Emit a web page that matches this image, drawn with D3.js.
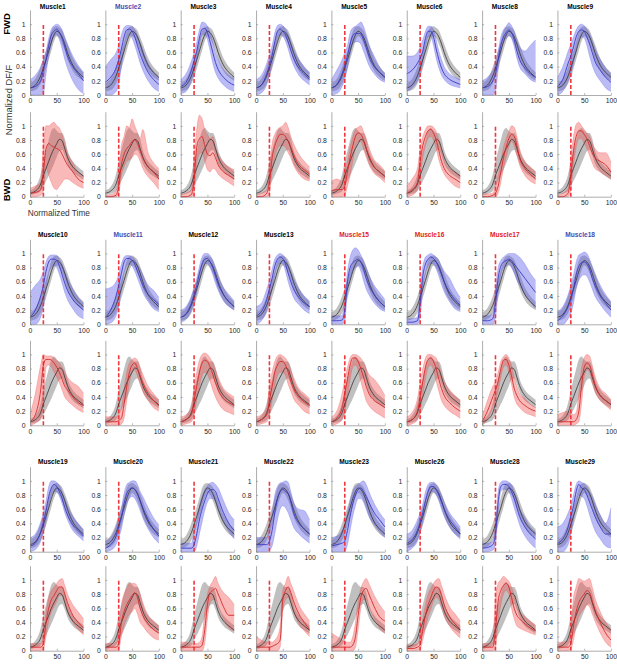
<!DOCTYPE html>
<html><head><meta charset="utf-8">
<script src="https://cdn.jsdelivr.net/npm/d3@7/dist/d3.min.js"></script>
<style>
body{margin:0;background:#fff;}
text{font-family:"Liberation Sans",Arial,Helvetica,sans-serif;}
</style>
</head><body>
<svg id="chart" width="617" height="669"></svg>
<script>
// ---------------- DATA ----------------
const muscles = ["Muscle1","Muscle2","Muscle3","Muscle4","Muscle5","Muscle6","Muscle8","Muscle9",
  "Muscle10","Muscle11","Muscle12","Muscle13","Muscle15","Muscle16","Muscle17","Muscle18",
  "Muscle19","Muscle20","Muscle21","Muscle22","Muscle23","Muscle26","Muscle28","Muscle29"];
const titleTone = ["","blue","","","","","","",
  "","blue","","","red","red","red","blue",
  "","","","","","","",""];
const timePts = [0,10,20,25,30,35,40,45,50,55,60,65,70,80,90,100];
const onsetTime = 25;
const xTicks = [0,50,100];
const yTicks = [0,0.2,0.4,0.6,0.8,1];

// reference (grey) curves
const refFwdMean = [0.1,0.14,0.27,0.38,0.5,0.62,0.75,0.85,0.9,0.88,0.82,0.72,0.6,0.42,0.32,0.25];
const refFwdLo   = [0.05,0.07,0.16,0.25,0.37,0.5,0.63,0.76,0.83,0.8,0.72,0.62,0.5,0.34,0.25,0.2];
const refFwdHi   = [0.17,0.23,0.4,0.52,0.63,0.76,0.9,0.96,0.97,0.95,0.91,0.82,0.72,0.52,0.4,0.32];
const refBwdMean = [0.05,0.08,0.18,0.3,0.4,0.5,0.6,0.68,0.75,0.81,0.79,0.68,0.56,0.42,0.35,0.29];
const refBwdLo   = [0.02,0.04,0.08,0.15,0.22,0.3,0.38,0.47,0.56,0.64,0.66,0.58,0.47,0.35,0.29,0.24];
const refBwdHi   = [0.09,0.14,0.32,0.5,0.65,0.8,0.93,0.97,0.93,0.9,0.9,0.82,0.66,0.5,0.42,0.36];

// forward (blue) curves, one row per muscle
const fwdMean = [
 [0.1,0.12,0.2,0.35,0.5,0.7,0.85,0.9,0.93,0.88,0.8,0.68,0.55,0.4,0.3,0.2],
 [0.18,0.25,0.38,0.5,0.65,0.82,0.92,0.93,0.9,0.82,0.7,0.58,0.48,0.32,0.22,0.15],
 [0.12,0.18,0.35,0.48,0.62,0.8,0.93,0.94,0.88,0.75,0.6,0.46,0.36,0.25,0.18,0.14],
 [0.1,0.14,0.3,0.42,0.56,0.75,0.9,0.93,0.9,0.85,0.75,0.63,0.52,0.38,0.3,0.22],
 [0.1,0.15,0.3,0.42,0.55,0.72,0.84,0.87,0.87,0.86,0.78,0.67,0.55,0.4,0.32,0.25],
 [0.3,0.35,0.45,0.52,0.62,0.8,0.9,0.9,0.82,0.65,0.5,0.38,0.3,0.22,0.18,0.15],
 [0.1,0.12,0.2,0.3,0.5,0.7,0.82,0.88,0.92,0.88,0.78,0.62,0.5,0.38,0.3,0.25],
 [0.12,0.22,0.45,0.55,0.68,0.82,0.9,0.92,0.9,0.82,0.72,0.6,0.48,0.35,0.25,0.18],
 [0.1,0.2,0.4,0.55,0.75,0.88,0.92,0.92,0.9,0.82,0.7,0.58,0.48,0.35,0.27,0.2],
 [0.1,0.2,0.4,0.55,0.72,0.88,0.93,0.93,0.9,0.85,0.75,0.65,0.55,0.42,0.35,0.28],
 [0.1,0.15,0.3,0.42,0.55,0.72,0.85,0.92,0.93,0.88,0.8,0.68,0.57,0.42,0.32,0.25],
 [0.12,0.18,0.35,0.5,0.65,0.82,0.92,0.95,0.93,0.85,0.72,0.6,0.5,0.38,0.3,0.25],
 [0.05,0.05,0.06,0.2,0.6,0.8,0.87,0.9,0.92,0.88,0.78,0.65,0.55,0.42,0.32,0.25],
 [0.03,0.03,0.05,0.3,0.68,0.85,0.92,0.95,0.93,0.88,0.8,0.7,0.6,0.45,0.35,0.27],
 [0.05,0.05,0.08,0.3,0.65,0.82,0.88,0.9,0.92,0.9,0.85,0.8,0.75,0.65,0.55,0.45],
 [0.05,0.12,0.25,0.35,0.5,0.7,0.82,0.87,0.88,0.85,0.78,0.65,0.55,0.4,0.3,0.2],
 [0.08,0.12,0.28,0.42,0.58,0.78,0.9,0.95,0.92,0.85,0.75,0.62,0.52,0.38,0.3,0.22],
 [0.05,0.1,0.22,0.35,0.48,0.68,0.82,0.88,0.9,0.88,0.82,0.72,0.62,0.45,0.32,0.22],
 [0.05,0.05,0.05,0.1,0.25,0.45,0.6,0.72,0.82,0.87,0.88,0.85,0.75,0.55,0.4,0.3],
 [0.1,0.1,0.1,0.15,0.3,0.55,0.75,0.85,0.88,0.85,0.82,0.7,0.55,0.4,0.32,0.25],
 [0.08,0.1,0.12,0.15,0.3,0.5,0.68,0.8,0.88,0.9,0.85,0.78,0.7,0.55,0.45,0.35],
 [0.12,0.17,0.3,0.42,0.55,0.72,0.85,0.92,0.92,0.88,0.8,0.7,0.6,0.45,0.35,0.25],
 [0.05,0.06,0.1,0.25,0.7,0.92,0.95,0.95,0.92,0.85,0.75,0.62,0.5,0.35,0.25,0.18],
 [0.12,0.18,0.35,0.5,0.65,0.85,0.95,0.9,0.88,0.8,0.7,0.6,0.5,0.35,0.25,0.25]
];
const fwdLo = [
 [0,0,0,0.02,0.3,0.55,0.72,0.83,0.85,0.78,0.65,0.5,0.38,0.2,0.08,0.02],
 [0,0,0.05,0.15,0.4,0.65,0.8,0.85,0.8,0.7,0.58,0.45,0.35,0.2,0.1,0.05],
 [0.02,0.05,0.2,0.32,0.48,0.7,0.85,0.85,0.78,0.62,0.45,0.32,0.24,0.14,0.08,0.05],
 [0,0.03,0.15,0.28,0.42,0.62,0.8,0.85,0.83,0.76,0.65,0.52,0.42,0.28,0.2,0.14],
 [0,0.02,0.12,0.22,0.38,0.58,0.72,0.75,0.75,0.72,0.62,0.52,0.42,0.3,0.22,0.18],
 [0.05,0.1,0.2,0.3,0.45,0.68,0.82,0.83,0.7,0.52,0.38,0.28,0.22,0.15,0.12,0.1],
 [0,0,0,0.05,0.35,0.6,0.74,0.8,0.84,0.8,0.68,0.52,0.4,0.3,0.22,0.18],
 [0,0.05,0.2,0.3,0.45,0.62,0.78,0.82,0.8,0.7,0.55,0.42,0.32,0.2,0.1,0.05],
 [0,0,0.1,0.25,0.5,0.72,0.8,0.83,0.8,0.7,0.58,0.45,0.35,0.22,0.12,0.08],
 [0,0.02,0.12,0.25,0.5,0.72,0.82,0.85,0.82,0.75,0.65,0.55,0.45,0.32,0.22,0.18],
 [0.03,0.07,0.2,0.3,0.45,0.62,0.77,0.85,0.86,0.8,0.7,0.58,0.48,0.33,0.25,0.2],
 [0,0.05,0.2,0.35,0.5,0.7,0.82,0.86,0.85,0.75,0.6,0.48,0.38,0.28,0.2,0.15],
 [0,0,0,0.05,0.45,0.65,0.75,0.8,0.82,0.75,0.62,0.5,0.42,0.3,0.22,0.18],
 [0,0,0,0.1,0.5,0.72,0.82,0.86,0.85,0.78,0.68,0.56,0.46,0.32,0.22,0.18],
 [0,0,0,0.1,0.45,0.7,0.8,0.82,0.85,0.8,0.72,0.62,0.55,0.42,0.32,0.22],
 [0,0,0.08,0.15,0.3,0.5,0.62,0.68,0.7,0.68,0.6,0.5,0.4,0.28,0.18,0.1],
 [0,0.03,0.15,0.28,0.42,0.65,0.8,0.85,0.85,0.78,0.68,0.55,0.45,0.3,0.22,0.15],
 [0,0.02,0.1,0.2,0.32,0.52,0.68,0.75,0.78,0.75,0.68,0.58,0.48,0.32,0.2,0.12],
 [0,0,0,0,0.08,0.25,0.42,0.58,0.7,0.75,0.75,0.7,0.6,0.42,0.28,0.18],
 [0,0,0,0.02,0.08,0.25,0.45,0.6,0.65,0.62,0.55,0.45,0.35,0.25,0.18,0.12],
 [0,0,0,0,0.1,0.3,0.5,0.65,0.75,0.75,0.7,0.6,0.5,0.38,0.28,0.2],
 [0,0.05,0.15,0.28,0.42,0.6,0.75,0.83,0.85,0.8,0.72,0.6,0.5,0.35,0.25,0.18],
 [0,0,0.02,0.1,0.55,0.85,0.88,0.88,0.85,0.75,0.62,0.5,0.38,0.22,0.12,0.05],
 [0,0,0.1,0.25,0.45,0.65,0.8,0.78,0.75,0.65,0.52,0.4,0.3,0.18,0.08,0.05]
];
const fwdHi = [
 [0.22,0.28,0.4,0.5,0.62,0.8,0.93,0.98,1,0.98,0.92,0.82,0.72,0.55,0.42,0.32],
 [0.4,0.5,0.6,0.7,0.85,0.95,0.98,0.98,0.97,0.92,0.84,0.74,0.64,0.45,0.33,0.25],
 [0.22,0.3,0.48,0.6,0.75,0.92,1.03,1.02,0.97,0.88,0.75,0.6,0.5,0.36,0.28,0.23],
 [0.22,0.28,0.45,0.57,0.7,0.88,0.98,1,0.98,0.93,0.86,0.75,0.65,0.5,0.4,0.32],
 [0.22,0.35,0.5,0.6,0.7,0.88,0.95,0.97,1,1.03,0.97,0.85,0.72,0.55,0.4,0.3],
 [0.55,0.55,0.6,0.68,0.78,0.9,0.97,0.97,0.92,0.78,0.62,0.5,0.4,0.3,0.25,0.22],
 [0.2,0.25,0.35,0.45,0.62,0.82,0.92,0.97,1.02,0.98,0.9,0.78,0.68,0.62,0.7,0.78],
 [0.25,0.4,0.62,0.72,0.82,0.92,0.98,1,0.98,0.93,0.86,0.77,0.66,0.5,0.38,0.3],
 [0.45,0.55,0.65,0.75,0.88,0.96,0.98,0.98,0.97,0.92,0.85,0.75,0.65,0.5,0.38,0.3],
 [0.5,0.52,0.6,0.7,0.85,0.95,0.97,0.97,0.95,0.92,0.85,0.78,0.7,0.55,0.48,0.38],
 [0.2,0.25,0.4,0.52,0.65,0.82,0.95,1,1,0.97,0.9,0.8,0.68,0.52,0.42,0.33],
 [0.25,0.3,0.5,0.62,0.78,0.92,0.98,1,0.98,0.93,0.85,0.75,0.65,0.5,0.4,0.33],
 [0.12,0.12,0.12,0.4,0.75,0.95,1.05,1.08,1.05,0.98,0.9,0.8,0.7,0.55,0.45,0.35],
 [0.08,0.08,0.1,0.5,0.82,0.95,0.98,1,0.98,0.95,0.9,0.82,0.75,0.65,0.5,0.38],
 [0.12,0.12,0.15,0.5,0.8,0.9,0.95,0.98,1,1,1,0.98,0.95,0.85,0.72,0.62],
 [0.18,0.25,0.42,0.55,0.7,0.88,0.98,1,1.02,1,0.92,0.82,0.72,0.55,0.42,0.32],
 [0.2,0.25,0.42,0.55,0.72,0.92,1,1,0.98,0.93,0.85,0.75,0.65,0.5,0.4,0.3],
 [0.15,0.2,0.35,0.48,0.62,0.82,0.95,0.98,1,1,0.95,0.85,0.78,0.62,0.48,0.38],
 [0.12,0.12,0.12,0.3,0.45,0.65,0.78,0.88,0.93,0.97,0.98,0.95,0.9,0.72,0.55,0.45],
 [0.2,0.2,0.2,0.35,0.55,0.8,0.92,0.97,0.98,1,0.98,0.85,0.7,0.6,0.58,0.45],
 [0.2,0.22,0.3,0.4,0.55,0.72,0.85,0.92,0.95,0.98,1,0.95,0.85,0.68,0.55,0.45],
 [0.25,0.3,0.45,0.55,0.68,0.85,0.95,0.98,0.98,0.95,0.88,0.8,0.7,0.55,0.45,0.35],
 [0.12,0.12,0.15,0.4,0.85,0.98,1,1,0.98,0.95,0.85,0.75,0.62,0.48,0.35,0.28],
 [0.35,0.4,0.55,0.65,0.8,0.95,1,0.98,0.96,0.92,0.85,0.78,0.68,0.52,0.4,0.62]
];

// backward (red) curves, one row per muscle
const bwdMean = [
 [0.05,0.06,0.1,0.35,0.68,0.75,0.72,0.7,0.68,0.66,0.6,0.52,0.45,0.35,0.25,0.2],
 [0,0,0.02,0.15,0.45,0.6,0.68,0.72,0.78,0.8,0.75,0.65,0.55,0.42,0.35,0.25],
 [0,0,0.03,0.25,0.7,0.82,0.85,0.72,0.6,0.58,0.62,0.55,0.45,0.35,0.3,0.25],
 [0,0,0.05,0.2,0.55,0.72,0.82,0.88,0.88,0.85,0.78,0.7,0.6,0.45,0.38,0.32],
 [0.08,0.1,0.1,0.15,0.35,0.55,0.72,0.85,0.9,0.88,0.8,0.68,0.58,0.42,0.35,0.28],
 [0.05,0.1,0.2,0.5,0.72,0.85,0.93,0.95,0.9,0.8,0.65,0.5,0.4,0.3,0.25,0.2],
 [0,0,0.02,0.05,0.15,0.35,0.55,0.7,0.82,0.88,0.85,0.72,0.55,0.4,0.32,0.25],
 [0,0,0.05,0.3,0.65,0.85,0.93,0.93,0.88,0.82,0.72,0.62,0.55,0.5,0.45,0.35],
 [0.05,0.15,0.5,0.85,0.93,0.93,0.92,0.88,0.82,0.75,0.65,0.55,0.5,0.4,0.32,0.28],
 [0.05,0.05,0.05,0.07,0.1,0.3,0.55,0.75,0.85,0.88,0.8,0.7,0.6,0.45,0.35,0.28],
 [0.05,0.08,0.15,0.35,0.55,0.75,0.88,0.92,0.9,0.82,0.72,0.6,0.5,0.38,0.32,0.28],
 [0.05,0.08,0.15,0.35,0.55,0.75,0.85,0.9,0.9,0.85,0.75,0.62,0.52,0.4,0.33,0.28],
 [0.05,0.1,0.25,0.45,0.65,0.85,0.95,0.95,0.9,0.8,0.68,0.55,0.45,0.35,0.3,0.25],
 [0.05,0.08,0.2,0.4,0.62,0.82,0.93,0.95,0.9,0.8,0.65,0.52,0.42,0.32,0.25,0.2],
 [0.05,0.2,0.4,0.5,0.62,0.8,0.92,0.93,0.85,0.7,0.52,0.42,0.35,0.28,0.23,0.2],
 [0.05,0.05,0.05,0.05,0.05,0.08,0.2,0.55,0.82,0.88,0.85,0.72,0.58,0.42,0.35,0.3],
 [0.05,0.05,0.05,0.1,0.4,0.6,0.72,0.78,0.85,0.9,0.9,0.8,0.68,0.5,0.4,0.32],
 [0.05,0.05,0.05,0.1,0.4,0.55,0.65,0.72,0.78,0.82,0.75,0.6,0.5,0.38,0.3,0.25],
 [0.05,0.05,0.05,0.05,0.05,0.05,0.08,0.3,0.65,0.82,0.85,0.88,0.8,0.62,0.5,0.5],
 [0.05,0.05,0.05,0.05,0.06,0.08,0.1,0.15,0.72,0.85,0.9,0.82,0.7,0.52,0.4,0.3],
 [0.05,0.05,0.05,0.05,0.05,0.05,0.08,0.2,0.5,0.75,0.85,0.88,0.8,0.62,0.48,0.42],
 [0.03,0.03,0.05,0.08,0.3,0.5,0.65,0.75,0.85,0.9,0.88,0.78,0.65,0.48,0.38,0.3],
 [0.05,0.05,0.05,0.3,0.7,0.85,0.92,0.95,0.9,0.75,0.6,0.5,0.45,0.38,0.32,0.28],
 [0.05,0.05,0.05,0.1,0.35,0.55,0.68,0.75,0.8,0.85,0.82,0.7,0.58,0.4,0.25,0.15]
];
const bwdLo = [
 [0,0,0.02,0.08,0.4,0.3,0.2,0.12,0.1,0.15,0.2,0.25,0.25,0.2,0.15,0.12],
 [0,0,0,0.05,0.3,0.42,0.5,0.52,0.55,0.6,0.58,0.5,0.4,0.28,0.2,0.1],
 [0,0,0,0.05,0.45,0.6,0.62,0.5,0.38,0.35,0.4,0.38,0.32,0.25,0.2,0.15],
 [0,0,0,0.05,0.35,0.55,0.68,0.72,0.72,0.7,0.62,0.55,0.45,0.32,0.25,0.22],
 [0,0,0,0.02,0.15,0.3,0.5,0.7,0.78,0.78,0.68,0.56,0.46,0.33,0.27,0.2],
 [0,0.02,0.1,0.3,0.55,0.72,0.82,0.85,0.8,0.68,0.52,0.4,0.32,0.22,0.15,0.12],
 [0,0,0,0,0.05,0.2,0.4,0.55,0.7,0.78,0.72,0.58,0.45,0.3,0.22,0.18],
 [0,0,0,0.1,0.45,0.7,0.82,0.82,0.75,0.68,0.58,0.48,0.4,0.35,0.3,0.25],
 [0,0.03,0.1,0.35,0.82,0.85,0.82,0.75,0.68,0.6,0.5,0.4,0.35,0.28,0.22,0.18],
 [0,0,0,0,0.02,0.1,0.35,0.6,0.75,0.78,0.7,0.58,0.48,0.35,0.25,0.2],
 [0,0.02,0.05,0.15,0.35,0.55,0.7,0.75,0.72,0.62,0.5,0.4,0.32,0.22,0.18,0.15],
 [0,0.02,0.05,0.15,0.35,0.55,0.7,0.75,0.75,0.7,0.58,0.48,0.38,0.28,0.2,0.16],
 [0,0.02,0.08,0.2,0.4,0.65,0.82,0.85,0.78,0.62,0.48,0.35,0.28,0.2,0.15,0.1],
 [0,0.02,0.08,0.2,0.42,0.65,0.82,0.85,0.78,0.62,0.48,0.35,0.28,0.2,0.15,0.1],
 [0,0.08,0.25,0.35,0.48,0.68,0.82,0.85,0.75,0.58,0.4,0.3,0.25,0.18,0.15,0.12],
 [0,0,0,0,0,0.02,0.05,0.3,0.68,0.78,0.75,0.6,0.48,0.35,0.28,0.22],
 [0,0,0,0.02,0.2,0.42,0.55,0.62,0.7,0.78,0.78,0.68,0.55,0.4,0.3,0.22],
 [0,0,0,0.02,0.2,0.35,0.45,0.52,0.55,0.6,0.52,0.4,0.35,0.25,0.18,0.15],
 [0,0,0,0,0,0,0,0.1,0.45,0.68,0.72,0.72,0.62,0.45,0.32,0.28],
 [0,0,0,0,0,0,0,0.05,0.55,0.72,0.75,0.68,0.55,0.38,0.28,0.2],
 [0,0,0,0,0,0,0,0.05,0.3,0.6,0.72,0.72,0.62,0.45,0.32,0.25],
 [0,0,0,0.02,0.15,0.32,0.48,0.58,0.7,0.75,0.72,0.62,0.5,0.35,0.25,0.18],
 [0,0,0,0.05,0.4,0.65,0.8,0.85,0.8,0.6,0.45,0.35,0.32,0.28,0.25,0.22],
 [0,0,0,0.02,0.15,0.35,0.48,0.55,0.6,0.65,0.62,0.52,0.42,0.25,0.12,0.05]
];
const bwdHi = [
 [0.12,0.15,0.2,0.72,1,1,1.03,1.05,1,0.97,0.88,0.75,0.62,0.48,0.35,0.3],
 [0.02,0.03,0.08,0.3,0.72,0.85,1,0.98,1.1,1,0.9,0.82,0.95,0.62,0.48,0.4],
 [0.03,0.05,0.1,0.55,0.95,1.15,1.1,0.95,0.88,0.82,0.85,0.7,0.6,0.48,0.42,0.38],
 [0.03,0.05,0.1,0.4,0.75,0.88,0.95,0.98,1,1.05,0.98,0.85,0.75,0.6,0.5,0.42],
 [0.22,0.25,0.22,0.4,0.5,0.7,0.85,0.95,0.98,1,0.92,0.82,0.7,0.52,0.45,0.36],
 [0.15,0.25,0.4,0.68,0.85,0.95,1,1,0.98,0.92,0.8,0.65,0.52,0.4,0.35,0.3],
 [0.03,0.04,0.05,0.15,0.3,0.5,0.7,0.82,0.92,1,0.98,0.85,0.68,0.5,0.42,0.35],
 [0.02,0.05,0.12,0.55,0.85,1.02,1.05,1,0.95,0.9,0.85,0.75,0.68,0.62,0.62,0.48],
 [0.15,0.45,0.85,1,0.98,0.98,0.98,0.95,0.92,0.88,0.82,0.75,0.68,0.6,0.55,0.45],
 [0.12,0.12,0.12,0.15,0.25,0.5,0.75,0.88,0.93,0.95,0.92,0.82,0.72,0.55,0.45,0.36],
 [0.12,0.15,0.25,0.55,0.75,0.92,1,1.02,1,0.95,0.88,0.78,0.68,0.52,0.45,0.4],
 [0.12,0.15,0.25,0.55,0.75,0.9,0.98,1,0.98,0.95,0.88,0.78,0.68,0.52,0.45,0.38],
 [0.12,0.2,0.45,0.65,0.82,0.95,1,1,0.98,0.95,0.88,0.8,0.72,0.65,0.55,0.42],
 [0.12,0.18,0.38,0.6,0.8,0.95,1,1,0.98,0.95,0.85,0.72,0.62,0.5,0.42,0.35],
 [0.12,0.35,0.55,0.62,0.75,0.9,0.97,1,0.95,0.85,0.68,0.55,0.45,0.38,0.3,0.25],
 [0.15,0.18,0.2,0.18,0.15,0.18,0.45,0.8,0.95,1,0.98,0.85,0.7,0.52,0.45,0.36],
 [0.1,0.1,0.1,0.2,0.55,0.75,0.85,0.9,0.95,1,1.02,0.92,0.8,0.65,0.55,0.45],
 [0.1,0.1,0.12,0.3,0.65,0.8,0.88,0.95,0.95,0.95,0.9,0.8,0.68,0.5,0.42,0.35],
 [0.12,0.12,0.1,0.1,0.1,0.12,0.2,0.55,0.8,0.92,0.98,1.05,0.95,0.82,0.75,0.65],
 [0.2,0.15,0.12,0.12,0.12,0.15,0.2,0.35,0.85,0.95,1.05,0.95,0.85,0.65,0.52,0.42],
 [0.25,0.2,0.15,0.12,0.12,0.12,0.2,0.4,0.7,0.88,0.97,1.02,0.95,0.78,0.65,0.55],
 [0.08,0.08,0.1,0.2,0.45,0.65,0.8,0.88,0.95,1,1.02,0.92,0.8,0.62,0.52,0.42],
 [0.1,0.1,0.12,0.75,0.95,1,1.05,1.02,0.98,0.9,0.78,0.62,0.55,0.48,0.42,0.36],
 [0.12,0.12,0.15,0.3,0.75,0.9,1.02,1,0.98,1,1.02,0.9,0.75,0.55,0.4,0.3]
];

// ---------------- LAYOUT / STYLE ----------------
const svg = d3.select("#chart");
const colLeft = 30, colStep = 75.35, plotW = 53.5;
const rowZero = [95, 196.7, 324.3, 425.3, 551.7, 650.7];
const yMax = 1.2, plotH = 85;
const titleBaseline = [8.5, 237, 463.5];
const toneColor = {"": "#000", blue: "#4a4ab0", red: "#e21b23"};
const dirStyle = [
  {band: "rgba(90,90,228,0.42)", edge: "rgba(90,90,228,0.55)", line: "#3a3ac4"},
  {band: "rgba(240,80,80,0.40)", edge: "rgba(235,80,80,0.6)", line: "#d42a2a"}
];

function series(vals){ return timePts.map((t,i)=>({t, v: vals[i]})); }
function bandSeries(lo, hi){ return timePts.map((t,i)=>({t, lo: lo[i], hi: hi[i]})); }

muscles.forEach((name, m) => {
  const g = Math.floor(m / 8), c = m % 8;
  const left = colLeft + c * colStep;

  svg.append("text")
    .attr("x", left + plotW / 2 - 4)
    .attr("y", titleBaseline[g])
    .attr("text-anchor", "middle")
    .attr("font-size", 6.6)
    .attr("font-weight", "bold")
    .attr("fill", toneColor[titleTone[m]])
    .text(name);

  [0, 1].forEach(dir => {
    const base = rowZero[2 * g + dir];
    const x = d3.scaleLinear().domain([0, 100]).range([left, left + plotW]);
    const y = d3.scaleLinear().domain([0, yMax]).range([base, base - plotH]);
    const p = svg.append("g");

    const area = d3.area().x(d => x(d.t)).y0(d => y(d.lo)).y1(d => y(d.hi)).curve(d3.curveMonotoneX);
    const line = d3.line().x(d => x(d.t)).y(d => y(d.v)).curve(d3.curveMonotoneX);

    const rMean = dir ? refBwdMean : refFwdMean;
    const rLo = dir ? refBwdLo : refFwdLo;
    const rHi = dir ? refBwdHi : refFwdHi;
    const cMean = (dir ? bwdMean : fwdMean)[m];
    const cLo = (dir ? bwdLo : fwdLo)[m];
    const cHi = (dir ? bwdHi : fwdHi)[m];

    p.append("path").datum(bandSeries(rLo, rHi)).attr("d", area).attr("fill", "#c0c0c0");
    p.append("path").datum(bandSeries(cLo, cHi)).attr("d", area).attr("fill", dirStyle[dir].band);
    [cLo, cHi].forEach(edge => {
      p.append("path").datum(series(edge)).attr("d", line).attr("fill", "none")
        .attr("stroke", dirStyle[dir].edge).attr("stroke-width", 0.5);
    });
    const xo = x(onsetTime);
    p.append("line")
      .attr("x1", xo).attr("x2", xo)
      .attr("y1", y(0)).attr("y2", y(1))
      .attr("stroke", "#f0373e").attr("stroke-width", 1.6).attr("stroke-dasharray", "4,2");
    p.append("path").datum(series(rMean)).attr("d", line).attr("fill", "none").attr("stroke", "#333").attr("stroke-width", 0.8);
    p.append("path").datum(series(cMean)).attr("d", line).attr("fill", "none").attr("stroke", dirStyle[dir].line).attr("stroke-width", 0.9);

    const ax = p.append("g").attr("transform", `translate(0,${base})`)
      .call(d3.axisBottom(x).tickValues(xTicks).tickSize(-2).tickSizeOuter(0).tickPadding(3.5));
    const ay = p.append("g").attr("transform", `translate(${left},0)`)
      .call(d3.axisLeft(y).tickValues(yTicks).tickSize(-2).tickSizeOuter(0).tickPadding(4.5)
        .tickFormat(d => (d === 0 || d === 1) ? String(d) : d3.format(".1f")(d)));
    [ax, ay].forEach(a => {
      a.select(".domain").attr("stroke", "#8a8a8a").attr("stroke-width", 0.7);
      a.selectAll(".tick line").attr("stroke", "#8a8a8a").attr("stroke-width", 0.6);
      a.selectAll(".tick text").attr("font-size", 6.8).attr("fill", "#262626")
        .attr("font-family", "'Liberation Sans',Arial,sans-serif");
    });
  });
});

// side labels
svg.append("text").attr("transform", "translate(10,24) rotate(-90)")
  .attr("text-anchor", "middle").attr("font-size", 9.5).attr("font-weight", "bold").text("FWD");
svg.append("text").attr("transform", "translate(10,190) rotate(-90)")
  .attr("text-anchor", "middle").attr("font-size", 9.5).attr("font-weight", "bold").text("BWD");
svg.append("text").attr("transform", "translate(11.5,100) rotate(-90)")
  .attr("text-anchor", "middle").attr("font-size", 9.3).attr("fill", "#333").text("Normalized DF/F");
svg.append("text").attr("x", 58.8).attr("y", 216)
  .attr("text-anchor", "middle").attr("font-size", 8.3).attr("fill", "#333").text("Normalized Time");
</script>
</body></html>
